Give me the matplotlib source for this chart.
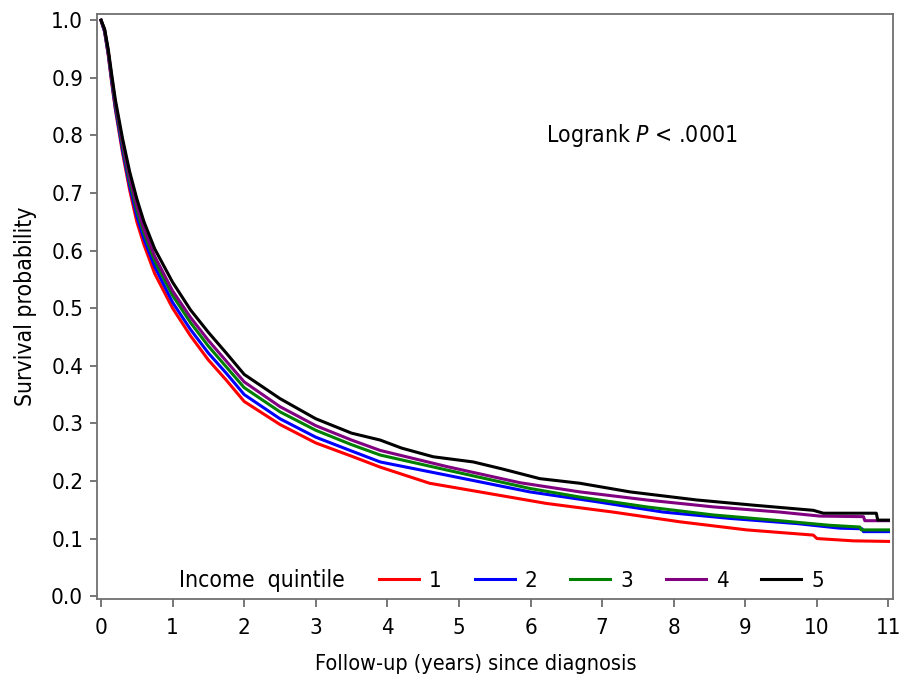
import matplotlib
matplotlib.use("Agg")
import matplotlib.pyplot as plt

plt.rcParams["font.stretch"] = "condensed"

# Kaplan-Meier curves by income quintile
x_q1 = [0, 0.05, 0.1, 0.15, 0.2, 0.3, 0.4, 0.5, 0.6, 0.75, 1.0, 1.25, 1.5, 1.75, 2.0, 2.5, 3.0, 3.5, 3.9,
        4.59, 5.29, 6.22, 7.15, 8.09, 9.02, 9.95, 10.0, 10.51, 11.0]
y_q1 = [1.0, 0.98, 0.94, 0.89, 0.845, 0.77, 0.705, 0.65, 0.61, 0.56, 0.50, 0.452, 0.41, 0.375, 0.338, 0.298, 0.266, 0.243, 0.224,
        0.196, 0.181, 0.161, 0.146, 0.129, 0.115, 0.106, 0.100, 0.096, 0.095]

x_q2 = [0, 0.05, 0.1, 0.15, 0.2, 0.3, 0.4, 0.5, 0.6, 0.75, 1.0, 1.25, 1.5, 1.75, 2.0, 2.5, 3.0, 3.5, 3.9,
        4.83, 5.99, 6.92, 7.85, 8.78, 9.72, 10.32, 10.63, 10.65, 11.0]
y_q2 = [1.0, 0.98, 0.942, 0.893, 0.848, 0.775, 0.712, 0.66, 0.62, 0.572, 0.51, 0.463, 0.422, 0.387, 0.35, 0.308, 0.276, 0.252, 0.233,
        0.210, 0.181, 0.164, 0.146, 0.135, 0.126, 0.118, 0.117, 0.112, 0.112]

x_q3 = [0, 0.05, 0.1, 0.15, 0.2, 0.3, 0.4, 0.5, 0.6, 0.75, 1.0, 1.25, 1.5, 1.75, 2.0, 2.5, 3.0, 3.5, 3.9,
        4.83, 5.99, 6.69, 7.62, 8.55, 9.48, 10.18, 10.6, 10.62, 11.0]
y_q3 = [1.0, 0.982, 0.945, 0.897, 0.853, 0.782, 0.72, 0.67, 0.63, 0.582, 0.522, 0.475, 0.434, 0.398, 0.362, 0.32, 0.288, 0.263, 0.245,
        0.219, 0.187, 0.172, 0.155, 0.141, 0.131, 0.123, 0.120, 0.115, 0.115]

x_q4 = [0, 0.05, 0.1, 0.15, 0.2, 0.3, 0.4, 0.5, 0.6, 0.75, 1.0, 1.25, 1.5, 1.75, 2.0, 2.5, 3.0, 3.5, 3.9,
        4.83, 5.85, 6.69, 7.62, 8.55, 9.48, 10.04, 10.65, 10.67, 11.0]
y_q4 = [1.0, 0.983, 0.947, 0.9, 0.857, 0.788, 0.727, 0.678, 0.637, 0.59, 0.53, 0.484, 0.444, 0.408, 0.372, 0.329, 0.296, 0.271, 0.253,
        0.225, 0.197, 0.181, 0.167, 0.155, 0.146, 0.139, 0.138, 0.131, 0.131]

x_q5 = [0, 0.05, 0.1, 0.15, 0.2, 0.3, 0.4, 0.5, 0.6, 0.75, 1.0, 1.25, 1.5, 1.75, 2.0, 2.5, 3.0, 3.5, 3.9,
        4.2, 4.64, 5.2, 5.6, 6.13, 6.69, 7.39, 8.32, 9.11, 9.95, 10.09, 10.83, 10.85, 11.0]
y_q5 = [1.0, 0.985, 0.95, 0.905, 0.862, 0.795, 0.737, 0.69, 0.65, 0.603, 0.545, 0.497, 0.458, 0.422, 0.385, 0.343, 0.308, 0.283, 0.271,
        0.257, 0.242, 0.233, 0.221, 0.204, 0.196, 0.181, 0.167, 0.158, 0.149, 0.144, 0.144, 0.132, 0.132]

labels = ["1", "2", "3", "4", "5"]
colors = ["#ff0000", "#0000ff", "#008000", "#800080", "#000000"]

fig = plt.figure(figsize=(9.11, 6.79), dpi=100)
ax = fig.add_axes([0.1065, 0.1178, 0.8735, 0.8612])

series = [(x_q1, y_q1), (x_q2, y_q2), (x_q3, y_q3), (x_q4, y_q4), (x_q5, y_q5)]
for (xs, ys), lab, col in zip(series, labels, colors):
    ax.plot(xs, ys, color=col, lw=2.2, label=lab)

ax.set_xlim(-0.056, 11.06)
ax.set_ylim(-0.005, 1.0104)
ax.set_xticks(range(0, 12))
ax.set_yticks([i / 10 for i in range(11)])
ax.set_yticklabels([f"{i / 10:.1f}" for i in range(11)])

for sp in ax.spines.values():
    sp.set_color("#707070")
    sp.set_linewidth(1.3)
ax.tick_params(axis="x", direction="out", length=6, width=1.2, color="#606060", labelsize=16, pad=8)
ax.tick_params(axis="y", direction="out", length=5, width=1.2, color="#606060", labelsize=16, pad=5)

ax.set_xlabel("Follow-up (years) since diagnosis", fontsize=15.5)
ax.set_ylabel("Survival probability", fontsize=16.5)
ax.xaxis.set_label_coords(0.476, -0.094)
ax.yaxis.set_label_coords(-0.075, 0.5)

ax.text(0.564, 0.793, "Logrank $P$ < .0001", transform=ax.transAxes, fontsize=16.5,
        ha="left", va="center")

ax.text(0.103, 0.031, "Income  quintile", transform=ax.transAxes, fontsize=16.5,
        ha="left", va="center")
ax.legend(loc="center left", bbox_to_anchor=(0.3543, 0.031), ncol=5, frameon=False,
          fontsize=16, handlelength=1.8, handletextpad=0.45, columnspacing=1.48,
          borderpad=0, borderaxespad=0)

fig.savefig("out.png", dpi=100)
